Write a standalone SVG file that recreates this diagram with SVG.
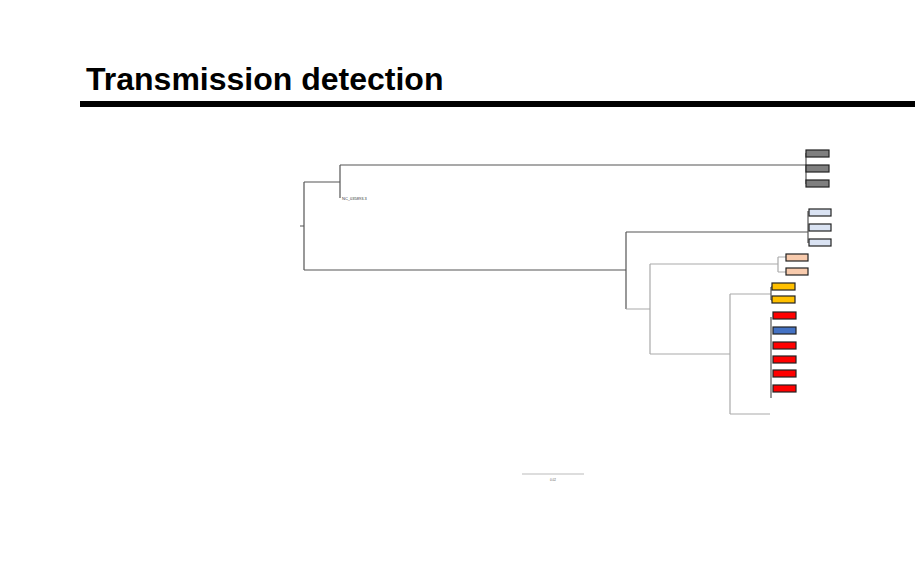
<svg xmlns="http://www.w3.org/2000/svg" width="915" height="563" viewBox="0 0 915 563">
<style>
.e{stroke:#555;stroke-width:1.2;fill:none}
.g{stroke:#aaa;stroke-width:1.2;fill:none}
.b{stroke:#222;stroke-width:1.2}
</style>
<rect width="915" height="563" fill="#fff"/>
<text x="86" y="90" font-family="Liberation Sans, Arial, sans-serif" font-weight="bold" font-size="32" fill="#000">Transmission detection</text>
<rect x="80" y="101" width="835" height="6" fill="#000"/>
<g id="connectors">
<path class="e" d="M300,226H304M304,182V270M304,182H340M340,165V198M340,165H806M806,153V184M304,270H626M626,232V309M626,232H808M808,211V243"/>
<path class="g" d="M626,309H650M650,264V354M650,264H778M778,257V272M778,257H786M778,272H786M650,354H730M730,294V414M730,294H771M730,414H770"/>
<path class="e" d="M771,287V300M771,287H772M771,300H772M771,317V398"/>
</g>
<g id="label"><text x="342" y="200" font-family="Liberation Sans, Arial, sans-serif" font-size="4" fill="#333">NC_035893.3</text></g>
<g id="grey" class="b" fill="#7f7f7f"><rect x="806" y="150" width="23" height="7"/><rect x="806" y="165" width="23" height="7"/><rect x="806" y="180" width="23" height="7"/></g>
<g id="lightblue" class="b" fill="#dae3f3"><rect x="809" y="209" width="22" height="7"/><rect x="809" y="224" width="22" height="7"/><rect x="809" y="239" width="22" height="7"/></g>
<g id="peach" class="b" fill="#f8cbad"><rect x="786" y="254" width="22" height="7"/><rect x="786" y="268" width="22" height="7"/></g>
<g id="yellow" class="b" fill="#ffc000"><rect x="772" y="283" width="23" height="7"/><rect x="772" y="296" width="23" height="7"/></g>
<g id="red" class="b" fill="#ff0000"><rect x="773" y="312" width="23" height="7"/><rect x="773" y="342" width="23" height="7"/><rect x="773" y="356" width="23" height="7"/><rect x="773" y="370" width="23" height="7"/><rect x="773" y="385" width="23" height="7"/></g>
<g id="blue" class="b" fill="#4472c4"><rect x="773" y="327" width="23" height="7"/></g>
<g id="scale"><line x1="522" y1="474" x2="584" y2="474" stroke="#bbb" stroke-width="1"/><text x="553" y="481" text-anchor="middle" font-family="Liberation Sans, Arial, sans-serif" font-size="3" fill="#555">0.02</text></g>
</svg>
